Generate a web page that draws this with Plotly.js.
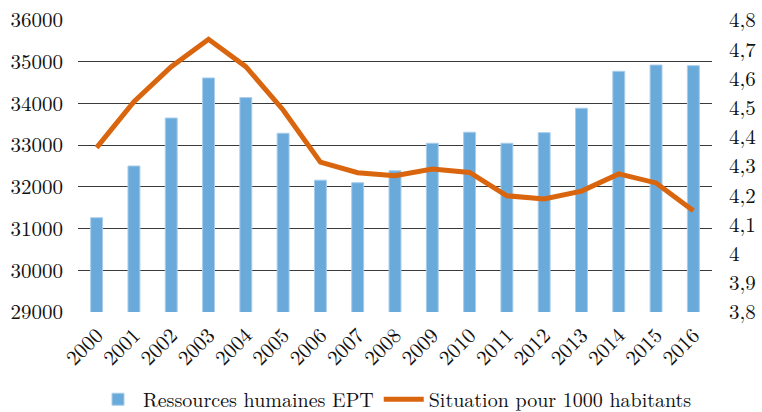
<!DOCTYPE html>
<html>
<head>
<meta charset="utf-8">
<script src="https://cdn.plot.ly/plotly-3.0.1.min.js"></script>
<style>html,body{margin:0;padding:0;background:#fff;}#chart{width:762px;height:412px;}</style>
</head>
<body>
<div id="chart"></div>
<script>
const years = ["2000","2001","2002","2003","2004","2005","2006","2007","2008","2009","2010","2011","2012","2013","2014","2015","2016"];
const ressourcesEPT = [31260, 32500, 33650, 34610, 34140, 33285, 32160, 32100, 32385, 33045, 33310, 33045, 33300, 33885, 34770, 34920, 34905];
const pour1000 = [4.363, 4.520, 4.640, 4.734, 4.640, 4.492, 4.313, 4.277, 4.267, 4.290, 4.278, 4.198, 4.187, 4.214, 4.273, 4.242, 4.147];
const seriesNames = ["Ressources humaines EPT", "Situation pour 1000 habitants"];

const font = "Latin Modern Roman";

const traces = [
  {
    type: 'bar', x: years, y: ressourcesEPT, name: seriesNames[0],
    marker: {color: '#6aaadb', line: {color: '#a9cdea', width: 1}},
    yaxis: 'y'
  },
  {
    type: 'scatter', mode: 'lines', x: years, y: pour1000, name: seriesNames[1],
    line: {color: '#d9650e', width: 5, shape: 'linear'},
    yaxis: 'y2'
  }
];

const layout = {
  width: 762, height: 412,
  margin: {l: 78, r: 50, t: 20, b: 100, autoexpand: false},
  paper_bgcolor: '#fff', plot_bgcolor: '#fff',
  font: {family: font, size: 21, color: '#111'},
  separators: ', ',
  bargap: 0.68,
  showlegend: true,
  legend: {orientation: 'h', x: 0.5, xanchor: 'center', y: -0.232, yanchor: 'top',
           font: {family: font, size: 20, color: '#111'}, itemwidth: 40, tracegroupgap: 0},
  xaxis: {
    type: 'category', tickangle: -45, showgrid: false, zeroline: false, showline: false,
    automargin: false, ticks: '', ticklabelstandoff: 6, tickfont: {family: font, size: 21}
  },
  yaxis: {
    range: [29000, 36000], dtick: 1000, tickformat: 'd', automargin: false,
    showgrid: true, gridcolor: '#3a3a3a', gridwidth: 1, zeroline: false, showline: false,
    ticks: '', ticklabelstandoff: 14, tickfont: {family: font, size: 21}
  },
  yaxis2: {
    overlaying: 'y', side: 'right', range: [3.8, 4.8], dtick: 0.1, automargin: false,
    showgrid: false, zeroline: false, showline: false,
    ticks: '', ticklabelstandoff: 16, tickfont: {family: font, size: 21}
  }
};

Plotly.newPlot('chart', traces, layout, {displayModeBar: false, staticPlot: true});
</script>
</body>
</html>
